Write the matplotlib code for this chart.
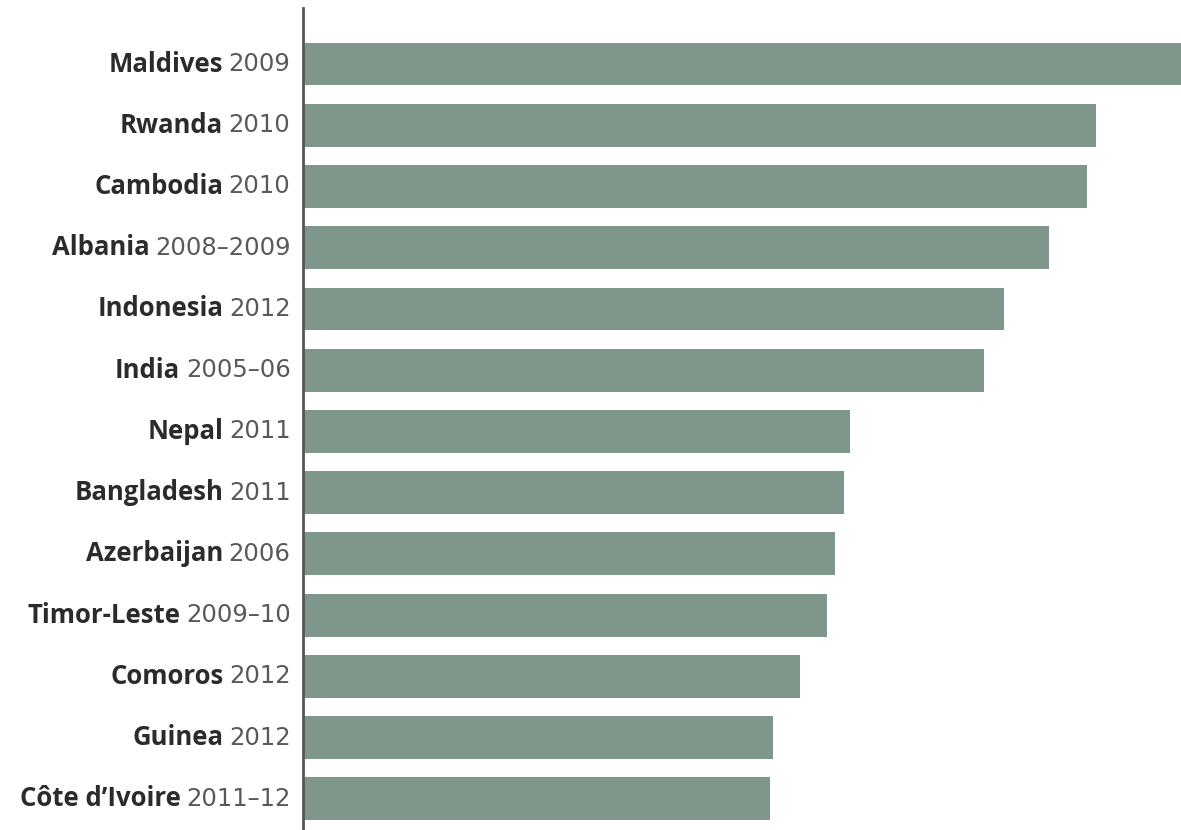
import matplotlib
matplotlib.use("Agg")
import matplotlib.pyplot as plt

countries = ["Maldives", "Rwanda", "Cambodia", "Albania", "Indonesia", "India",
             "Nepal", "Bangladesh", "Azerbaijan", "Timor-Leste", "Comoros",
             "Guinea", "Côte d\u2019Ivoire"]
years = ["2009", "2010", "2010", "2008\u20132009", "2012", "2005\u201306",
         "2011", "2011", "2006", "2009\u201310", "2012", "2012", "2011\u201312"]
values = [87.7, 79.2, 78.3, 74.5, 70.0, 68.0, 54.6, 54.0, 53.1, 52.3, 49.6, 46.9, 46.6]

bar_color = "#7f978a"

fig = plt.figure(figsize=(11.81, 8.30), dpi=100)
ax = fig.add_axes([303 / 1181, 0.0, 1 - 303 / 1181, 822 / 830])

pos = list(range(len(countries)))
ax.barh(pos, values, height=0.70, color=bar_color, left=0)
ax.set_xlim(0, max(values))
ax.set_ylim(12.51, -0.915)

for s in ["top", "right", "bottom"]:
    ax.spines[s].set_visible(False)
ax.spines["left"].set_color("#555555")
ax.spines["left"].set_linewidth(2)
ax.set_xticks([])
ax.set_yticks([])

for i, (c, y) in enumerate(zip(countries, years)):
    t = ax.annotate(y, xy=(0, i), xycoords=("axes fraction", "data"),
                    xytext=(-9, 0), textcoords="offset points",
                    ha="right", va="center", fontsize=17.5, family="DejaVu Sans",
                    color="#595959")
    ax.annotate(c, xy=(0, 0.5), xycoords=t, xytext=(-4, 0),
                textcoords="offset points", ha="right", va="center",
                fontsize=18.5, family="Open Sans", fontweight="bold", color="#2b2b2b")

fig.savefig("out.png", dpi=100)
